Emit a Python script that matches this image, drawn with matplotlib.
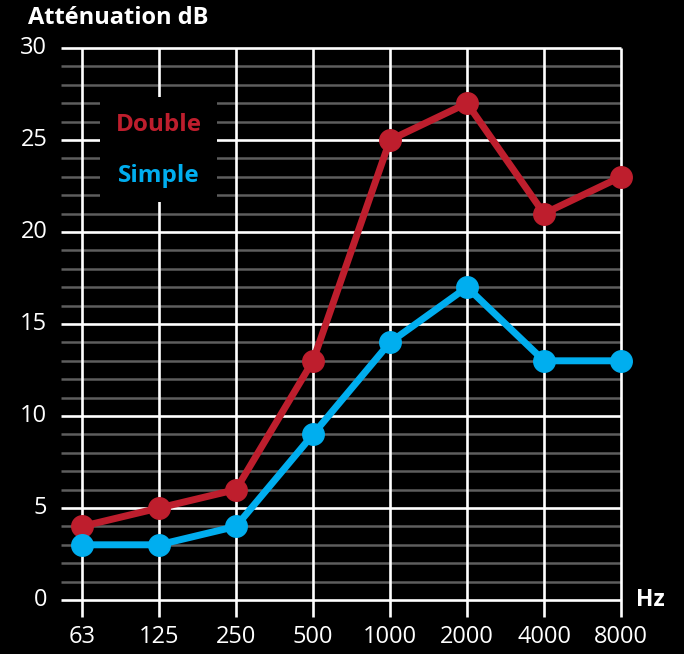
import matplotlib.pyplot as plt
from matplotlib.patches import Rectangle

freqs = ["63", "125", "250", "500", "1000", "2000", "4000", "8000"]
double = [4, 5, 6, 13, 25, 27, 21, 23]
simple = [3, 3, 4, 9, 14, 17, 13, 13]
y_major = [0, 5, 10, 15, 20, 25, 30]
y_minor = [v for v in range(31) if v % 5 != 0]

RED = "#be1e2d"
BLUE = "#00aeef"

plt.rcParams["font.family"] = ["Open Sans", "DejaVu Sans"]

fig = plt.figure(figsize=(6.84, 6.54), dpi=100, facecolor="black")
ax = fig.add_axes([0, 0, 1, 1])
ax.set_facecolor("black")
ax.axis("off")

# pixel mapping: category i -> 82 + 77*i ; value v -> 600 - 18.4*v (from top)
ax.set_xlim((0 - 82) / 77, (684 - 82) / 77)
ax.set_ylim((600 - 654) / 18.4, 600 / 18.4)

n = len(freqs)
x = list(range(n))
x_left = -21 / 77

# grid
ax.hlines(y_minor, x_left, n - 1, color="#5e5e5e", lw=1.8, zorder=1)
ax.hlines(y_major, x_left, n - 1, color="white", lw=1.9, zorder=2)
ax.vlines(x, -17 / 18.4, 30, color="white", lw=1.9, zorder=2)

# legend box
ax.add_patch(Rectangle((0.234, 21.63), 1.52, 5.71, facecolor="black",
                       edgecolor="none", zorder=3))
ax.text(1, 25.8, "Double", color=RED, fontsize=17.5, fontweight="bold",
        ha="center", va="center", zorder=4)
ax.text(1, 23.05, "Simple", color=BLUE, fontsize=17.5, fontweight="bold",
        ha="center", va="center", zorder=4)

# data
ax.plot(x, double, color=RED, lw=5, marker="o", markersize=15.5, zorder=5,
        solid_capstyle="round")
ax.plot(x, simple, color=BLUE, lw=5, marker="o", markersize=15.5, zorder=6,
        solid_capstyle="round")

# tick labels
for v in y_major:
    ax.text(-0.45, v, str(v), color="white", fontsize=17, ha="right",
            va="center")
for i, f in enumerate(freqs):
    ax.text(i, -2.0, f, color="white", fontsize=17, ha="center", va="center")

ax.text((28 - 82) / 77, (600 - 18) / 18.4, "Atténuation dB", color="white",
        fontsize=17, fontweight="bold", ha="left", va="center")
ax.text((636 - 82) / 77, 0, "Hz", color="white", fontsize=16.5,
        fontweight="bold", ha="left", va="center")

fig.savefig("out.png", dpi=100, facecolor="black")
